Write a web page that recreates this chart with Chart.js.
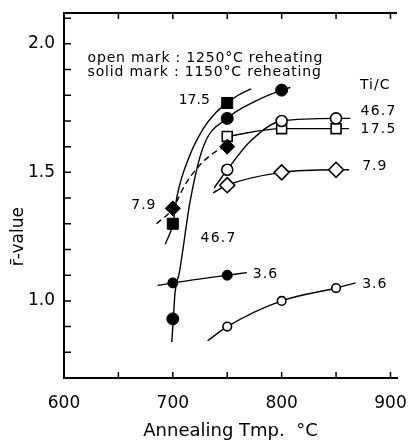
<!DOCTYPE html>
<html>
<head>
<meta charset="utf-8">
<script src="https://cdn.jsdelivr.net/npm/chart.js@4.4.1/dist/chart.umd.min.js"></script>
<style>
  body { margin: 0; background: #fff; }
  canvas { display: block; }
</style>
</head>
<body>
<canvas id="grafica" width="409" height="442"></canvas>
<script>
// valores (temperatura de recocido en °C, valor r)
// marcas rellenas: recalentamiento 1150°C
const solido467T = [700, 750, 800];
const solido467R = [0.93, 1.71, 1.82];
const solido175T = [700, 750];
const solido175R = [1.30, 1.77];
const solido79T = [700, 750];
const solido79R = [1.36, 1.60];
const solido36T = [700, 750];
const solido36R = [1.07, 1.10];

// marcas abiertas: recalentamiento 1250°C
const abiertoT = [750, 800, 850];
const abierto467R = [1.51, 1.70, 1.71];
const abierto175R = [1.64, 1.67, 1.67];
const abierto79R = [1.45, 1.50, 1.51];
const abierto36R = [0.90, 1.00, 1.05];

// curvas dibujadas a mano en la figura
const curvaS467T = [699, 700.5, 702, 706, 716, 728, 750, 775, 800, 808];
const curvaS467R = [0.84, 0.93, 1.03, 1.11, 1.39, 1.60, 1.71, 1.775, 1.82, 1.83];
const curvaS175T = [693, 700, 704, 715, 728, 739, 750, 760, 772];
const curvaS175R = [1.22, 1.30, 1.41, 1.56, 1.67, 1.73, 1.77, 1.80, 1.825];
const curvaS79T = [685, 700, 711, 723, 739, 750];
const curvaS79R = [1.30, 1.36, 1.45, 1.52, 1.58, 1.60];
const curvaS36T = [686, 700, 750, 768];
const curvaS36R = [1.06, 1.07, 1.10, 1.11];
const curvaA467T = [738, 750, 771, 800, 850, 863];
const curvaA467R = [1.44, 1.51, 1.62, 1.70, 1.71, 1.71];
const curvaA175T = [750, 800, 850, 862];
const curvaA175R = [1.64, 1.67, 1.67, 1.67];
const curvaA79T = [737, 750, 800, 850, 862];
const curvaA79R = [1.42, 1.45, 1.50, 1.51, 1.51];
const curvaA36T = [732, 750, 800, 850, 868];
const curvaA36R = [0.845, 0.90, 1.00, 1.05, 1.07];

// etiquetas de los ejes
const etiquetasX = [600, 700, 800, 900];
const etiquetasY = [1.0, 1.5, 2.0];

const fuente = '"DejaVu Sans", sans-serif';

function puntos(xs, ys) {
  return xs.map((x, i) => ({ x: x, y: ys[i] }));
}

function serieMarcas(xs, ys, estilo, radio, relleno) {
  return {
    data: puntos(xs, ys),
    showLine: false,
    pointStyle: estilo,
    pointRadius: radio,
    pointBackgroundColor: relleno ? '#000' : '#fff',
    pointBorderColor: '#000',
    pointBorderWidth: relleno ? 1 : 1.6,
    order: 0
  };
}

function serieCurva(xs, ys, guion) {
  return {
    data: puntos(xs, ys),
    showLine: true,
    pointRadius: 0,
    borderColor: '#000',
    borderWidth: 1.4,
    borderDash: guion,
    cubicInterpolationMode: 'monotone',
    fill: false,
    order: 1
  };
}

// textos sobre el grafico (posicion en unidades de los ejes)
const notas = [
  { t: 'open mark : 1250°C reheating', x: 621.7, y: 1.942, a: 'left', e: '0.8px' },
  { t: 'solid mark : 1150°C reheating', x: 621.7, y: 1.891, a: 'left', e: '0.8px' },
  { t: 'Ti/C', x: 886, y: 1.837, a: 'center', e: '1px' },
  { t: '17.5', x: 734, y: 1.78, a: 'right', e: '0px' },
  { t: '46.7', x: 872.5, y: 1.739, a: 'left', e: '1.2px' },
  { t: '17.5', x: 872.5, y: 1.669, a: 'left', e: '1.2px' },
  { t: '7.9', x: 874, y: 1.525, a: 'left', e: '1px' },
  { t: '7.9', x: 685, y: 1.37, a: 'right', e: '1px' },
  { t: '46.7', x: 742, y: 1.245, a: 'center', e: '1.2px' },
  { t: '3.6', x: 773.5, y: 1.105, a: 'left', e: '1px' },
  { t: '3.6', x: 874, y: 1.066, a: 'left', e: '1px' }
];

const ejes = {
  id: 'ejes',
  beforeDatasetsDraw(chart) {
    const { ctx, chartArea: a, scales: { x, y } } = chart;
    ctx.save();
    ctx.strokeStyle = '#000';
    ctx.lineWidth = 2;
    ctx.beginPath();
    ctx.moveTo(a.left - 1, a.top);
    ctx.lineTo(a.right, a.top);
    ctx.stroke();

    // marcas hacia dentro
    ctx.lineWidth = 1.5;
    ctx.beginPath();
    x.ticks.forEach(t => {
      if (t.value % 50 !== 0 || t.value === x.min) return;
      const px = x.getPixelForValue(t.value);
      ctx.moveTo(px, a.bottom);
      ctx.lineTo(px, a.bottom - 6);
      ctx.moveTo(px, a.top);
      ctx.lineTo(px, a.top + 6);
    });
    y.ticks.forEach(t => {
      const v = Math.round(t.value * 10) / 10;
      if (Math.abs(v - t.value) > 1e-6 || v <= y.min + 1e-6) return;
      const py = y.getPixelForValue(v);
      ctx.moveTo(a.left, py);
      ctx.lineTo(a.left + 7, py);
    });
    ctx.stroke();
    ctx.restore();
  },
  afterDraw(chart) {
    const { ctx, scales: { x, y } } = chart;
    ctx.save();
    ctx.fillStyle = '#000';
    ctx.textBaseline = 'middle';
    ctx.font = '14px ' + fuente;
    notas.forEach(n => {
      ctx.letterSpacing = n.e;
      ctx.textAlign = n.a;
      ctx.fillText(n.t, x.getPixelForValue(n.x), y.getPixelForValue(n.y));
    });

    // titulo del eje y
    ctx.letterSpacing = '0px';
    ctx.translate(19, y.getPixelForValue(1.25));
    ctx.rotate(-Math.PI / 2);
    ctx.font = '17px ' + fuente;
    ctx.textAlign = 'center';
    ctx.fillText('r\u0304-value', 0, 0);
    ctx.restore();
  }
};

new Chart(document.getElementById('grafica'), {
  type: 'scatter',
  data: {
    datasets: [
      serieMarcas(solido467T, solido467R, 'circle', 6, true),
      serieMarcas(solido175T, solido175R, 'rect', 7.8, true),
      serieMarcas(solido79T, solido79R, 'rectRot', 7.5, true),
      serieMarcas(solido36T, solido36R, 'circle', 5, true),
      serieMarcas(abiertoT, abierto467R, 'circle', 5.5, false),
      serieMarcas(abiertoT, abierto175R, 'rect', 7, false),
      serieMarcas(abiertoT, abierto79R, 'rectRot', 7.5, false),
      serieMarcas(abiertoT, abierto36R, 'circle', 4.3, false),
      serieCurva(curvaS467T, curvaS467R, []),
      serieCurva(curvaS175T, curvaS175R, []),
      serieCurva(curvaS79T, curvaS79R, [6, 4]),
      serieCurva(curvaS36T, curvaS36R, []),
      serieCurva(curvaA467T, curvaA467R, []),
      serieCurva(curvaA175T, curvaA175R, []),
      serieCurva(curvaA79T, curvaA79R, []),
      serieCurva(curvaA36T, curvaA36R, [])
    ]
  },
  options: {
    responsive: false,
    animation: false,
    events: [],
    layout: { padding: { top: 13, right: 12, left: 0, bottom: 0 } },
    plugins: {
      legend: { display: false },
      tooltip: { enabled: false }
    },
    scales: {
      x: {
        type: 'linear',
        position: 'bottom',
        min: 600,
        max: 906,
        grid: { display: false },
        border: { display: true, color: '#000', width: 2 },
        ticks: {
          stepSize: 50,
          includeBounds: false,
          autoSkip: false,
          maxRotation: 0,
          padding: 7,
          color: '#000',
          font: { family: fuente, size: 17 },
          callback: v => etiquetasX.includes(v) ? String(v) : ''
        },
        title: {
          display: true,
          text: 'Annealing Tmp.  °C',
          color: '#000',
          font: { family: fuente, size: 18 },
          padding: { top: 1, bottom: 0 }
        },
        afterFit: s => {
          s.height = 64;
          s.paddingLeft = 0;
          s.paddingRight = 0;
        }
      },
      y: {
        type: 'linear',
        min: 0.7,
        max: 2.12,
        grid: { display: false },
        border: { display: true, color: '#000', width: 2 },
        ticks: {
          stepSize: 0.1,
          includeBounds: false,
          autoSkip: false,
          padding: 1,
          color: '#000',
          font: { family: fuente, size: 17 },
          callback: v => etiquetasY.some(e => Math.abs(e - v) < 1e-6) ? v.toFixed(1) : ''
        },
        afterFit: s => {
          s.width = 64;
          s.paddingTop = 0;
          s.paddingBottom = 0;
        }
      }
    }
  },
  plugins: [ejes]
});
</script>
</body>
</html>
